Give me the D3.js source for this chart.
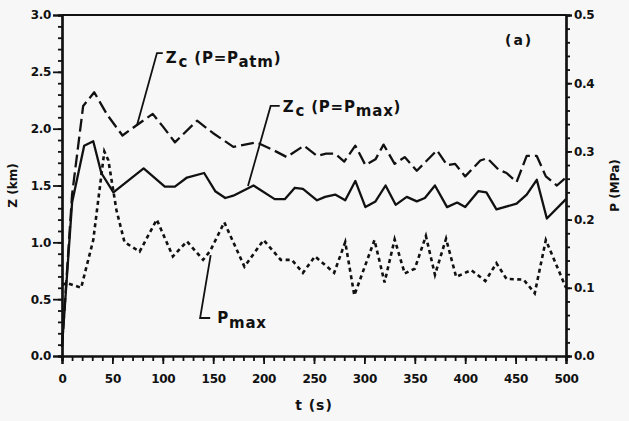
<!DOCTYPE html>
<html><head><meta charset="utf-8">
<script src="https://cdn.jsdelivr.net/npm/d3@7"></script>
<style>
html,body{margin:0;padding:0;background:#f7f7f7;}
svg{display:block;}
text{font-family:"DejaVu Sans",sans-serif;font-weight:bold;fill:#111;}
</style></head>
<body><svg id="c" width="629" height="421"></svg>
<script>
// ---- data ----
const tPatm = [0,10,21,32,45,60,74,90,100,112,134,150,170,193,210,223,240,253,262,271,280,291,301,311,319,330,340,352,372,382,390,400,415,422,433,441,451,461,471,480,491,500];
const zPatm = [0.08,1.42,2.20,2.32,2.12,1.94,2.03,2.13,2.02,1.88,2.07,1.96,1.84,1.88,1.81,1.75,1.85,1.76,1.78,1.78,1.71,1.85,1.68,1.73,1.86,1.69,1.75,1.63,1.81,1.68,1.69,1.58,1.72,1.74,1.64,1.61,1.53,1.76,1.76,1.58,1.50,1.57];

const tPmaxZ = [0,10,22,31,39,51,81,102,112,124,141,152,162,170,190,211,221,231,239,253,261,271,281,291,301,311,321,331,342,352,360,370,382,392,400,413,421,431,451,461,471,481,500];
const zPmaxZ = [0.08,1.35,1.85,1.89,1.61,1.44,1.65,1.49,1.49,1.57,1.61,1.45,1.39,1.41,1.50,1.38,1.38,1.48,1.47,1.37,1.40,1.42,1.37,1.54,1.31,1.36,1.50,1.33,1.40,1.36,1.39,1.50,1.31,1.35,1.31,1.45,1.44,1.29,1.34,1.42,1.55,1.21,1.38];

const tP = [0,5,19,31,42,46,54,62,77,94,110,124,140,147,161,181,200,217,228,239,251,270,281,290,310,320,330,340,350,361,370,381,391,406,420,431,441,458,469,480,500];
const pMax = [0.104,0.107,0.100,0.170,0.300,0.287,0.214,0.167,0.153,0.200,0.146,0.168,0.141,0.154,0.196,0.131,0.170,0.141,0.141,0.122,0.146,0.122,0.167,0.089,0.170,0.108,0.171,0.121,0.128,0.176,0.119,0.172,0.116,0.126,0.110,0.136,0.113,0.112,0.092,0.170,0.100];

const xTicks = [0,50,100,150,200,250,300,350,400,450,500];
const zTicks = [0,0.5,1.0,1.5,2.0,2.5,3.0];
const pTicks = [0,0.1,0.2,0.3,0.4,0.5];

// ---- scales ----
const svg = d3.select("#c");
const x = d3.scaleLinear().domain([0,500]).range([62,566]);
const yZ = d3.scaleLinear().domain([0,3]).range([356,15]);
const yP = d3.scaleLinear().domain([0,0.5]).range([356,15]);

// frame top
svg.append("line").attr("x1",x(0)).attr("x2",x(500)).attr("y1",yZ(3)).attr("y2",yZ(3))
  .attr("stroke","#111").attr("stroke-width",2);

function styleAxis(g){
  g.select(".domain").attr("stroke","#111").attr("stroke-width",2.2);
  g.selectAll(".tick line").attr("stroke","#111").attr("stroke-width",1.8);
  g.selectAll("text").attr("font-size",12).attr("font-family","DejaVu Sans, sans-serif").attr("font-weight","bold").attr("fill","#111").attr("letter-spacing",-0.3);
}
// minor ticks
svg.append("g").attr("transform",`translate(0,${yZ(0)})`)
  .call(d3.axisBottom(x).tickValues(d3.range(0,501,10)).tickSize(5).tickFormat(""))
  .call(styleAxis);
svg.append("g").attr("transform",`translate(${x(0)},0)`)
  .call(d3.axisLeft(yZ).tickValues(d3.range(0,31).map(d=>d/10)).tickSize(4).tickFormat(""))
  .call(styleAxis);
svg.append("g").attr("transform",`translate(${x(500)},0)`)
  .call(d3.axisRight(yP).tickValues(d3.range(0,26).map(d=>d/50)).tickSize(4).tickFormat(""))
  .call(styleAxis);
// major ticks
svg.append("g").attr("transform",`translate(0,${yZ(0)})`)
  .call(d3.axisBottom(x).tickValues(xTicks).tickSize(8).tickPadding(10).tickFormat(d3.format("d")))
  .call(styleAxis);
svg.append("g").attr("transform",`translate(${x(0)},0)`)
  .call(d3.axisLeft(yZ).tickValues(zTicks).tickSize(9).tickPadding(2).tickFormat(d3.format(".1f")))
  .call(styleAxis);
svg.append("g").attr("transform",`translate(${x(500)},0)`)
  .call(d3.axisRight(yP).tickValues(pTicks).tickSize(6).tickPadding(2).tickFormat(d3.format(".1f")))
  .call(styleAxis);

// ---- lines ----
const lineZ = d3.line().x(d=>x(d[0])).y(d=>yZ(d[1]));
const lineP = d3.line().x(d=>x(d[0])).y(d=>yP(d[1]));
svg.append("path").datum(d3.zip(tPatm,zPatm)).attr("d",lineZ)
  .attr("fill","none").attr("stroke","#111").attr("stroke-width",2.3)
  .attr("stroke-dasharray","13,5").attr("stroke-linejoin","round");
svg.append("path").datum(d3.zip(tPmaxZ,zPmaxZ)).attr("d",lineZ)
  .attr("fill","none").attr("stroke","#111").attr("stroke-width",2.3).attr("stroke-linejoin","round");
svg.append("path").datum(d3.zip(tP,pMax)).attr("d",lineP)
  .attr("fill","none").attr("stroke","#111").attr("stroke-width",2.6)
  .attr("stroke-dasharray","4,3.5");

// ---- annotations (data coordinates) ----
function leader(pts, sc){
  svg.append("path").attr("d", d3.line().x(d=>x(d[0])).y(d=>sc(d[1]))(pts))
    .attr("fill","none").attr("stroke","#111").attr("stroke-width",1.8);
}
leader([[100,2.665],[94.2,2.665],[74.4,2.03]], yZ);
leader([[216,2.2],[207,2.2],[184.5,1.495]], yZ);
leader([[147,0.0557],[137,0.0557],[147.5,0.148]], yP);

function label(t, yv, sc, parts){
  const tx = svg.append("text").attr("x",x(t)).attr("y",sc(yv)).attr("font-size",15).attr("letter-spacing",0.8);
  parts.forEach(p=>{
    const s = tx.append("tspan").text(p[0]);
    if(p[1]) s.attr("dy",p[1]);
    if(p[2]) s.attr("font-size",p[2]);
    if(p[3]) s.attr("dx",p[3]);
  });
}
label(103,2.58,yZ,[["Z"],["c",4,15,1],[" (P=P",-4,null,0],["atm",4,15],[")",-4]]);
label(219,2.15,yZ,[["Z"],["c",4,15,1],[" (P=P",-4,null,0],["max",4,15],[")",-4]]);
label(154,0.048,yP,[["P"],["max",5,15]]);
svg.append("text").attr("x",x(439.5)).attr("y",yZ(2.735)).attr("font-size",14).attr("letter-spacing",2).text("(a)");

// axis titles
svg.append("text").attr("x",x(250)).attr("y",410).attr("text-anchor","middle").attr("font-size",14).attr("letter-spacing",1).text("t (s)");
svg.append("text").attr("transform",`translate(17,${yZ(1.5)}) rotate(-90)`).attr("text-anchor","middle").attr("font-size",12).text("Z (km)");
svg.append("text").attr("transform",`translate(619,${yP(0.25)}) rotate(-90)`).attr("text-anchor","middle").attr("font-size",12).text("P (MPa)");
</script></body></html>
